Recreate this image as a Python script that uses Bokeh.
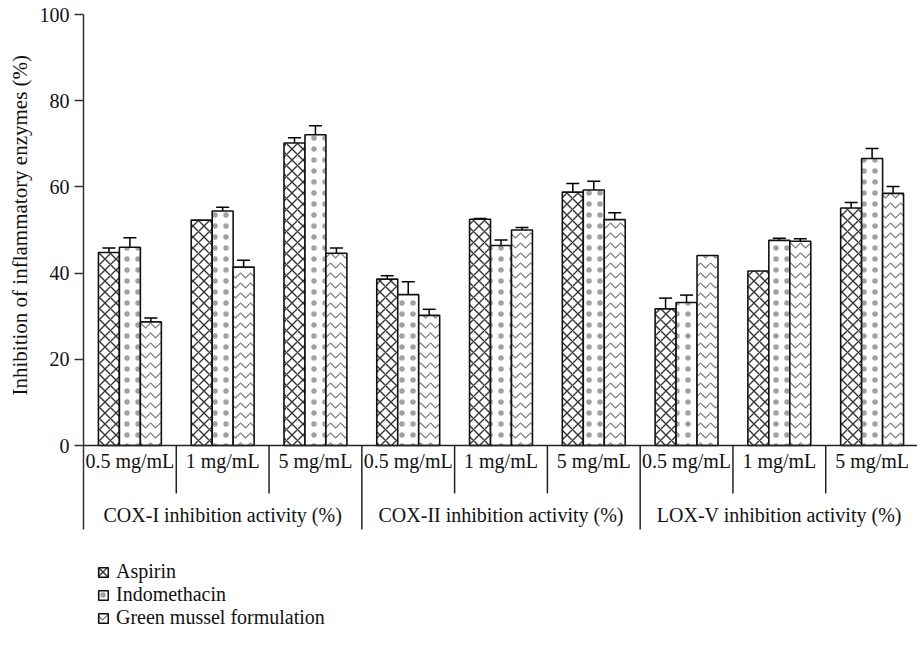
from bokeh.plotting import figure
from bokeh.models import (FixedTicker, Range1d, ColumnDataSource, Span, Title,
                          Whisker, TeeHead, Legend, LegendItem)
from bokeh.core.properties import value
from bokeh.embed import file_html
from bokeh.resources import INLINE

# ---- data ----
doses = ["0.5 mg/mL", "1 mg/mL", "5 mg/mL"]
groups = ["COX-I inhibition activity (%)", "COX-II inhibition activity (%)",
          "LOX-V inhibition activity (%)"]
series = ["Aspirin", "Indomethacin", "Green mussel formulation"]

aspirin = [44.8, 52.3, 70.2, 38.6, 52.5, 58.8, 31.7, 40.5, 55.1]
aspirin_err = [1.0, 0.0, 1.2, 0.8, 0.2, 2.0, 2.5, 0.0, 1.3]
indomethacin = [46.0, 54.4, 72.1, 35.0, 46.4, 59.3, 33.2, 47.6, 66.6]
indomethacin_err = [2.2, 0.9, 2.1, 3.0, 1.3, 2.0, 1.7, 0.5, 2.3]
green_mussel = [28.7, 41.4, 44.6, 30.2, 50.0, 52.4, 44.1, 47.4, 58.5]
green_mussel_err = [0.9, 1.6, 1.2, 1.4, 0.6, 1.6, 0.0, 0.6, 1.6]

y_ticks = [0, 20, 40, 60, 80, 100]
y_label = "Inhibition of inflammatory enzymes (%)"

FONT = "Liberation Serif"
INK = "#111111"

n_dose = len(doses)
n_cat = len(groups) * n_dose
centers = [i + 0.5 for i in range(n_cat)]
cat_labels = [d for g in groups for d in doses]
group_centers = [n_dose * g + n_dose / 2 for g in range(len(groups))]
cat_edges = [i for i in range(1, n_cat) if i % n_dose != 0]
grp_edges = [n_dose * g for g in range(1, len(groups))]

# layout of the area under the value axis (in value units, 4.31 px per unit)
Y_BOTTOM = -45.0
CAT_LABEL_Y = -3.7
CAT_SEP_Y = -11.1
GRP_LABEL_Y = -16.0
GRP_SEP_Y = -19.5

p = figure(frame_width=835, frame_height=625,
           x_range=Range1d(0, n_cat), y_range=Range1d(Y_BOTTOM, 100),
           output_backend="svg", toolbar_location=None,
           min_border_left=74, min_border_right=0, min_border_top=14,
           min_border_bottom=4, x_axis_location=None)
p.grid.visible = False
p.outline_line_color = None
p.background_fill_color = "white"

bw = 0.226
styles = [
    dict(hatch_pattern="diagonal_cross", hatch_color="#333333", hatch_scale=11, hatch_weight=1.4),
    dict(hatch_pattern="dot", hatch_color="#444444", hatch_alpha=0.5, hatch_scale=11, hatch_weight=0.8),
    dict(hatch_pattern="horizontal_wave", hatch_color="#777777", hatch_scale=10, hatch_weight=1.1),
]
vals = [aspirin, indomethacin, green_mussel]
errs = [aspirin_err, indomethacin_err, green_mussel_err]

renderers = []
for k, (v, st) in enumerate(zip(vals, styles)):
    xs = [c + (k - 1) * bw for c in centers]
    src = ColumnDataSource(dict(x=xs, top=v))
    r = p.vbar(x="x", top="top", bottom=0, width=bw, source=src,
               fill_color="white", line_color=INK, line_width=1.6, **st)
    renderers.append(r)
for k, (v, e) in enumerate(zip(vals, errs)):
    xs = [c + (k - 1) * bw for c in centers]
    keep = [i for i in range(n_cat) if e[i] > 0]
    wsrc = ColumnDataSource(dict(x=[xs[i] for i in keep],
                                 upper=[v[i] + e[i] for i in keep],
                                 lower=[v[i] - e[i] for i in keep]))
    w = Whisker(source=wsrc, base="x", upper="upper", lower="lower",
                line_color="black", line_width=1.5,
                upper_head=TeeHead(size=13, line_width=1.5, line_color="black"),
                lower_head=TeeHead(size=13, line_width=1.5, line_color="black"))
    p.add_layout(w)

# value axis
ya = p.yaxis[0]
ya.ticker = FixedTicker(ticks=y_ticks, minor_ticks=[])
ya.bounds = (GRP_SEP_Y, 100)
ya.major_tick_out = 9
ya.major_tick_in = 0
ya.major_tick_line_width = 1.5
ya.major_tick_line_color = "#333333"
ya.axis_line_width = 1.5
ya.axis_line_color = "#333333"
ya.major_label_text_font = FONT
ya.major_label_text_font_size = "20px"
ya.major_label_text_color = INK
ya.major_label_standoff = 5
ya.axis_label = None

# value-axis title, placed along the 0-100 part of the axis
ytitle = Title(text=y_label, align="left", offset=241, standoff=4,
               text_font=FONT, text_font_size="21px",
               text_font_style="normal", text_color=INK)
if "padding" in Title.properties():
    ytitle.padding = 3
p.add_layout(ytitle, "left")

# category axis line at zero
p.add_layout(Span(location=0, dimension="width", line_color="#222222", line_width=1.5))

# separators
p.segment(x0=cat_edges, y0=0, x1=cat_edges, y1=CAT_SEP_Y,
          line_color="#222222", line_width=1.5)
p.segment(x0=grp_edges, y0=0, x1=grp_edges, y1=GRP_SEP_Y,
          line_color="#222222", line_width=1.5)

# category and group labels
p.text(x=centers, y=[CAT_LABEL_Y] * n_cat, text=cat_labels,
       text_font=value(FONT), text_font_size=value("20px"), text_color=INK,
       text_align="center", text_baseline="middle")
p.text(x=group_centers, y=[GRP_LABEL_Y] * len(groups), text=groups,
       text_font=value(FONT), text_font_size=value("20px"), text_color=INK,
       text_align="center", text_baseline="middle")

legend = Legend(items=[LegendItem(label=s, renderers=[r]) for s, r in zip(series, renderers)],
                location=(14, 10), orientation="vertical",
                glyph_width=12, glyph_height=12, label_height=20, spacing=0,
                padding=0, margin=0, border_line_color=None,
                background_fill_alpha=0, label_standoff=7,
                label_text_font=FONT, label_text_font_size="20px",
                label_text_color=INK)
p.add_layout(legend)

open("out.html", "w").write(file_html(p, INLINE))
